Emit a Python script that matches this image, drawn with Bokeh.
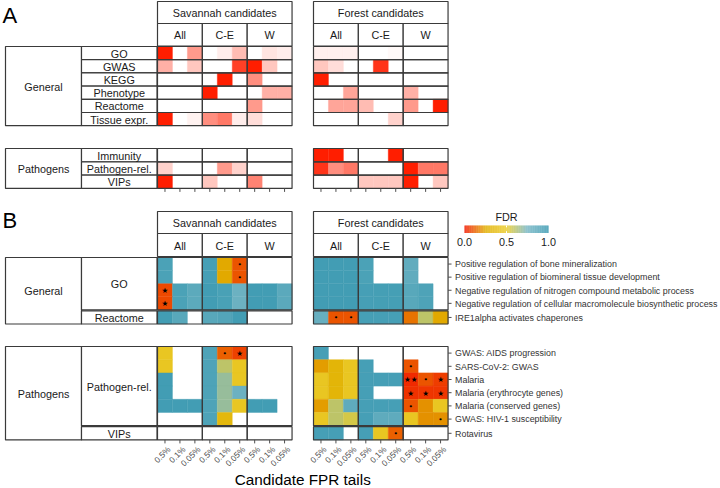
import numpy as np
from bokeh.plotting import figure
from bokeh.models import Range1d, ColumnDataSource, LinearColorMapper
from bokeh.transform import transform
from bokeh.core.properties import value
from bokeh.embed import file_html
from bokeh.resources import INLINE

nan = float("nan")

# ---------------------------------------------------------------- data
datasets = ["Savannah candidates", "Forest candidates"]
groups = ["All", "C-E", "W"]
tails = ["0.5%", "0.1%", "0.05%"]

# Panel A: relative enrichment strength (0 = none, 1 = strongest);
# 9 columns = groups (All, C-E, W) x tails (0.5%, 0.1%, 0.05%)
a_general_rows = ["GO", "GWAS", "KEGG", "Phenotype", "Reactome", "Tissue expr."]
a_pathogen_rows = ["Immunity", "Pathogen-rel.", "VIPs"]

a_sav_go = [1.0, 0, 0.45, 0, 0.08, 0.3, 0, 0.12, 0.08]
a_sav_gwas = [0.35, 0, 0.25, 0, 0, 0.85, 1.0, 0.25, 0]
a_sav_kegg = [0, 0, 0, 0, 1.0, 0, 0.5, 0, 0]
a_sav_pheno = [0, 0, 0, 1.0, 0, 0, 0, 0.35, 0.35]
a_sav_reactome = [0, 0, 0, 0, 0, 0, 0.45, 0, 0]
a_sav_tissue = [1.0, 0, 0.06, 0.5, 0.6, 0.08, 0.15, 0, 0]
a_sav_immunity = [0, 0, 0, 0, 0, 0, 0, 0, 0]
a_sav_pathrel = [0.2, 0, 0, 0, 0.45, 0.2, 0, 0, 0]
a_sav_vips = [1.0, 0, 0, 0.25, 0, 0, 0.55, 0, 0]

a_for_go = [0.07, 0.07, 0.07, 0, 0, 0.03, 0, 0, 0]
a_for_gwas = [0.25, 0.15, 0, 0, 0.9, 0, 0, 0, 0]
a_for_kegg = [1.0, 0, 0, 0, 0, 0, 0, 0, 0]
a_for_pheno = [0, 0, 0.4, 0, 0, 0, 0.35, 0, 0]
a_for_reactome = [0, 0.4, 0.4, 0.3, 0, 0, 0.45, 0, 1.0]
a_for_tissue = [0, 0, 0, 0, 0, 0.2, 0, 0, 0]
a_for_immunity = [1.0, 1.0, 0, 0, 0, 1.0, 0, 0, 0]
a_for_pathrel = [0.9, 0.5, 0.6, 0, 0, 0, 1.0, 0.6, 0.6]
a_for_vips = [0, 0, 0, 0.25, 0.25, 0.25, 1.0, 0, 0.25]

# Panel B: FDR values (nan = not tested) and significance marks
b_general_terms = ["Positive regulation of bone mineralization",
                   "Positive regulation of biomineral tissue development",
                   "Negative regulation of nitrogen compound metabolic process",
                   "Negative regulation of cellular macromolecule biosynthetic process",
                   "IRE1alpha activates chaperones"]
b_general_facets = [("GO", 4), ("Reactome", 1)]
b_pathogen_terms = ["GWAS: AIDS progression", "SARS-CoV-2: GWAS", "Malaria",
                    "Malaria (erythrocyte genes)", "Malaria (conserved genes)",
                    "GWAS: HIV-1 susceptibility", "Rotavirus"]
b_pathogen_facets = [("Pathogen-rel.", 6), ("VIPs", 1)]

b_sav_bone = [0.93, nan, nan, 0.95, 0.24, 0.1, nan, nan, nan]
b_sav_biomin = [0.93, nan, nan, 0.95, 0.24, 0.1, nan, nan, nan]
b_sav_nitrogen = [0.08, 0.93, 0.86, 0.97, 0.94, 0.8, 0.97, 0.97, 0.87]
b_sav_macromol = [0.08, 0.93, 0.86, 0.97, 0.94, 0.8, 0.97, 0.97, 0.87]
b_sav_ire1 = [0.97, 0.88, nan, 0.88, 0.9, 0.97, nan, nan, nan]
b_sav_aids = [0.45, nan, nan, 0.92, 0.12, 0.07, nan, nan, nan]
b_sav_sars = [0.45, nan, nan, 0.92, 0.6, 0.45, nan, nan, nan]
b_sav_malaria = [0.97, nan, nan, 0.92, 0.68, 0.45, nan, nan, nan]
b_sav_ery = [0.97, nan, nan, 0.92, 0.68, 0.8, nan, nan, nan]
b_sav_cons = [0.97, 0.97, 0.97, 0.92, 0.68, 0.45, 0.97, 0.97, nan]
b_sav_hiv = [nan, nan, nan, 0.92, 0.33, nan, nan, nan, nan]
b_sav_rota = [nan, nan, nan, nan, nan, nan, nan, nan, nan]

b_for_bone = [0.97, 0.97, 0.97, 0.93, nan, nan, 0.84, nan, nan]
b_for_biomin = [0.97, 0.97, 0.97, 0.93, nan, nan, 0.84, nan, nan]
b_for_nitrogen = [0.97, 0.97, 0.97, 0.95, 0.96, 0.96, 0.88, 0.92, nan]
b_for_macromol = [0.97, 0.97, 0.97, 0.95, 0.96, 0.96, 0.88, 0.92, nan]
b_for_ire1 = [0.82, 0.1, 0.1, 0.95, 0.95, 0.95, 0.15, 0.6, 0.24]
b_for_aids = [0.95, nan, nan, nan, nan, nan, nan, nan, nan]
b_for_sars = [0.22, 0.3, 0.45, 0.95, nan, nan, 0.1, nan, nan]
b_for_malaria = [0.45, 0.3, 0.45, 0.95, 0.95, 0.95, 0.03, 0.1, 0.06]
b_for_ery = [0.45, 0.3, 0.45, 0.95, nan, nan, 0.04, 0.05, 0.05]
b_for_cons = [0.22, 0.6, 0.85, 0.95, 0.95, 0.95, 0.1, 0.2, 0.45]
b_for_hiv = [0.45, 0.6, 0.55, 0.95, 0.85, 0.85, 0.45, 0.2, 0.2]
b_for_rota = [0.95, 0.95, nan, 0.95, 0.45, 0.12, nan, nan, nan]

E9 = [""] * 9
b_sav_nitrogen_sig = ["*", "", "", "", "", "", "", "", ""]
b_sav_macromol_sig = ["*", "", "", "", "", "", "", "", ""]
b_sav_bone_sig = ["", "", "", "", "", ".", "", "", ""]
b_sav_biomin_sig = ["", "", "", "", "", ".", "", "", ""]
b_sav_aids_sig = ["", "", "", "", ".", "*", "", "", ""]
b_for_ire1_sig = ["", ".", ".", "", "", "", "", "", ""]
b_for_sars_sig = ["", "", "", "", "", "", ".", "", ""]
b_for_malaria_sig = ["", "", "", "", "", "", "**", ".", "*"]
b_for_ery_sig = ["", "", "", "", "", "", "*", "*", "*"]
b_for_cons_sig = ["", "", "", "", "", "", ".", "", ""]
b_for_hiv_sig = ["", "", "", "", "", "", "", "", "."]
b_for_rota_sig = ["", "", "", "", "", ".", "", "", ""]

a_general = [[a_sav_go, a_sav_gwas, a_sav_kegg, a_sav_pheno, a_sav_reactome, a_sav_tissue],
             [a_for_go, a_for_gwas, a_for_kegg, a_for_pheno, a_for_reactome, a_for_tissue]]
a_pathogen = [[a_sav_immunity, a_sav_pathrel, a_sav_vips],
              [a_for_immunity, a_for_pathrel, a_for_vips]]
b_general = [[b_sav_bone, b_sav_biomin, b_sav_nitrogen, b_sav_macromol, b_sav_ire1],
             [b_for_bone, b_for_biomin, b_for_nitrogen, b_for_macromol, b_for_ire1]]
b_general_sig = [[b_sav_bone_sig, b_sav_biomin_sig, b_sav_nitrogen_sig, b_sav_macromol_sig, E9],
                 [E9, E9, E9, E9, b_for_ire1_sig]]
b_pathogen = [[b_sav_aids, b_sav_sars, b_sav_malaria, b_sav_ery, b_sav_cons, b_sav_hiv, b_sav_rota],
              [b_for_aids, b_for_sars, b_for_malaria, b_for_ery, b_for_cons, b_for_hiv, b_for_rota]]
b_pathogen_sig = [[b_sav_aids_sig, E9, E9, E9, E9, E9, E9],
                  [E9, b_for_sars_sig, b_for_malaria_sig, b_for_ery_sig, b_for_cons_sig,
                   b_for_hiv_sig, b_for_rota_sig]]

# ---------------------------------------------------------------- styling / layout
FONT = "Liberation Sans"
BORDER = "#3a3a3a"
TILE_W = 14.95
DS_X0 = [157.0, 313.0]
LEFT_OUT = (5.0, 81.0)
LEFT_IN = (81.0, 156.5)
W, H = 720, 488


def interp_palette(anchors, n=256):
    rgb = np.array([[int(a[i:i + 2], 16) for i in (1, 3, 5)] for a in anchors], float)
    pos = np.linspace(0, 1, len(anchors))
    t = np.linspace(0, 1, n)
    ch = [np.interp(t, pos, rgb[:, k]) for k in range(3)]
    return ["#%02x%02x%02x" % (int(round(ch[0][i])), int(round(ch[1][i])), int(round(ch[2][i])))
            for i in range(n)]


red_mapper = LinearColorMapper(palette=interp_palette(["#FFFFFF", "#FF1E00"]), low=0, high=1)
fdr_mapper = LinearColorMapper(palette=interp_palette(["#F21A00", "#E1AF00", "#EBCC2A", "#78B7C5", "#3B9AB2"]),
                               low=0, high=1)

p = figure(width=W, height=H, x_range=Range1d(0, W), y_range=Range1d(H, 0),
           output_backend="svg", toolbar_location=None, min_border=0,
           x_axis_location=None, y_axis_location=None)
p.xgrid.visible = False
p.ygrid.visible = False
p.outline_line_color = None


def add_text(xs, ys, texts, size, color="#1a1a1a", align="center", baseline="middle",
             angle=0.0, font=FONT, style="normal"):
    src = ColumnDataSource(dict(x=list(xs), y=list(ys), t=list(texts)))
    p.text(x="x", y="y", text="t", source=src, text_font=value(font),
           text_font_size=value("%.1fpx" % size), text_color=color,
           text_align=align, text_baseline=baseline, angle=angle, text_font_style=style)


def add_boxes(l, r, t, b, fill="white", alpha=0.0, lw=1.2, color=BORDER):
    src = ColumnDataSource(dict(l=l, r=r, t=t, b=b))
    p.quad(left="l", right="r", top="t", bottom="b", source=src, fill_color=fill,
           fill_alpha=alpha, line_color=color, line_width=lw)


def facet_layout(facets, y0, h, gap):
    rows, boxes = [], []
    y = y0
    for name, n in facets:
        top = y
        for _ in range(n):
            rows.append(y)
            y += h
        boxes.append((name, top, y))
        y += gap
    return rows, boxes


def tile_left(d, c):
    return DS_X0[d] + c * TILE_W


def draw_strips(y0, y1, y2):
    l, r, t, b = [], [], [], []
    tx, ty, tt = [], [], []
    for d, name in enumerate(datasets):
        x0, x1 = tile_left(d, 0), tile_left(d, 9)
        l.append(x0); r.append(x1); t.append(y0); b.append(y1)
        tx.append((x0 + x1) / 2); ty.append((y0 + y1) / 2 + 0.5); tt.append(name)
        for g, gname in enumerate(groups):
            gx0, gx1 = tile_left(d, 3 * g), tile_left(d, 3 * g + 3)
            l.append(gx0); r.append(gx1); t.append(y1); b.append(y2)
            tx.append((gx0 + gx1) / 2); ty.append((y1 + y2) / 2 + 0.5); tt.append(gname)
    add_boxes(l, r, t, b, alpha=1.0)
    add_text(tx, ty, tt, 10.8)


def draw_left(block_name, boxes):
    top, bottom = boxes[0][1], boxes[-1][2]
    add_boxes([LEFT_OUT[0]], [LEFT_OUT[1]], [top], [bottom], alpha=1.0)
    add_text([(LEFT_OUT[0] + LEFT_OUT[1]) / 2], [(top + bottom) / 2 + 0.5], [block_name], 10.8)
    add_boxes([LEFT_IN[0]] * len(boxes), [LEFT_IN[1]] * len(boxes),
              [bx[1] for bx in boxes], [bx[2] for bx in boxes], alpha=1.0)
    add_text([(LEFT_IN[0] + LEFT_IN[1]) / 2] * len(boxes),
             [(bx[1] + bx[2]) / 2 + 0.5 for bx in boxes], [bx[0] for bx in boxes], 10.8)


def draw_panel_borders(boxes):
    l, r, t, b = [], [], [], []
    for _, top, bottom in boxes:
        for d in range(2):
            for g in range(3):
                l.append(tile_left(d, 3 * g)); r.append(tile_left(d, 3 * g + 3))
                t.append(top); b.append(bottom)
    add_boxes(l, r, t, b)


def draw_cells(values, rows, h, mapper, skip):
    l, r, t, b, v = [], [], [], [], []
    for d in range(2):
        for i, rowvals in enumerate(values[d]):
            for c, val in enumerate(rowvals):
                if skip(val):
                    continue
                l.append(tile_left(d, c)); r.append(tile_left(d, c + 1))
                t.append(rows[i]); b.append(rows[i] + h); v.append(val)
    src = ColumnDataSource(dict(l=l, r=r, t=t, b=b, v=v))
    p.quad(left="l", right="r", top="t", bottom="b", source=src,
           fill_color=transform("v", mapper), line_color=transform("v", mapper), line_width=0.4)


def draw_sig(sigs, rows, h):
    xs, ys, ts = [], [], []
    sym = {"*": "\u2605", "**": "\u2605\u2605", ".": "\u2022"}
    for d in range(2):
        for i, rowsig in enumerate(sigs[d]):
            for c, s in enumerate(rowsig):
                if s:
                    xs.append(tile_left(d, c) + TILE_W / 2)
                    ys.append(rows[i] + h / 2 + 0.3)
                    ts.append(sym[s])
    add_text(xs, ys, ts, 7.5, color="black", font="DejaVu Sans")


def draw_bottom_ticks(y, labels):
    xs = [tile_left(d, c) + TILE_W / 2 for d in range(2) for c in range(9)]
    p.segment(x0=xs, y0=[y] * len(xs), x1=xs, y1=[y + 3.5] * len(xs), line_color="#4d4d4d", line_width=1)
    if labels:
        add_text([x + 0.5 for x in xs], [y + 4.5] * len(xs), [tails[c % 3] for d in range(2) for c in range(9)],
                 8.4, color="#4d4d4d", align="right", baseline="top", angle=np.pi / 4)


# ---------------------------------------------------------------- Panel A
add_text([2], [15], ["A"], 22, color="black", align="left")
draw_strips(1.0, 23.0, 45.5)

ag_h = 13.2
ag_rows, ag_boxes = facet_layout([(r, 1) for r in a_general_rows], 46.0, ag_h, 0.0)
draw_cells(a_general, ag_rows, ag_h, red_mapper, lambda v: not v > 0)
draw_panel_borders(ag_boxes)
draw_left("General", ag_boxes)

ap_h = 13.3
ap_rows, ap_boxes = facet_layout([(r, 1) for r in a_pathogen_rows], 148.0, ap_h, 0.0)
draw_cells(a_pathogen, ap_rows, ap_h, red_mapper, lambda v: not v > 0)
draw_panel_borders(ap_boxes)
draw_left("Pathogens", ap_boxes)
draw_bottom_ticks(ap_boxes[-1][2], False)

# ---------------------------------------------------------------- Panel B
add_text([2], [220], ["B"], 22, color="black", align="left")
draw_strips(211.0, 233.0, 256.0)

bh = 13.1
bg_rows, bg_boxes = facet_layout(b_general_facets, 257.0, bh, 1.0)
draw_cells(b_general, bg_rows, bh, fdr_mapper, lambda v: v != v)
draw_sig(b_general_sig, bg_rows, bh)
draw_panel_borders(bg_boxes)
draw_left("General", bg_boxes)

bp_h = 13.2
bp_rows, bp_boxes = facet_layout(b_pathogen_facets, 346.0, bp_h, 1.0)
draw_cells(b_pathogen, bp_rows, bp_h, fdr_mapper, lambda v: v != v)
draw_sig(b_pathogen_sig, bp_rows, bp_h)
draw_panel_borders(bp_boxes)
draw_left("Pathogens", bp_boxes)
draw_bottom_ticks(bp_boxes[-1][2], True)

# right-hand term labels with ticks
x_right = tile_left(1, 9)
term_y = [y + bh / 2 for y in bg_rows] + [y + bp_h / 2 for y in bp_rows]
terms = b_general_terms + b_pathogen_terms
p.segment(x0=[x_right] * len(term_y), y0=term_y, x1=[x_right + 3.5] * len(term_y), y1=term_y,
          line_color="#4d4d4d", line_width=1)
add_text([x_right + 7.0] * len(term_y), [y + 0.3 for y in term_y], terms, 8.9, color="#333333", align="left")

# x axis title
add_text([(tile_left(0, 0) + tile_left(1, 9)) / 2], [478.5], ["Candidate FPR tails"], 15.3, color="black")

# FDR colour legend
cb_x0, cb_x1, cb_y0, cb_y1 = 464.0, 548.0, 225.0, 232.5
n_cb = 120
cb_vals = np.linspace(0, 1, n_cb)
cb_edges = np.linspace(cb_x0, cb_x1, n_cb + 1)
cb_src = ColumnDataSource(dict(l=cb_edges[:-1], r=cb_edges[1:] + 0.05, v=cb_vals))
p.quad(left="l", right="r", top=cb_y0, bottom=cb_y1, source=cb_src,
       fill_color=transform("v", fdr_mapper), line_color=None)
cb_ticks = [0.0, 0.5, 1.0]
cb_tx = [cb_x0 + t * (cb_x1 - cb_x0) for t in cb_ticks]
p.segment(x0=cb_tx[1:2], y0=[cb_y0], x1=cb_tx[1:2], y1=[cb_y0 + 1.8], line_color="white", line_width=1)
p.segment(x0=cb_tx[1:2], y0=[cb_y1 - 1.8], x1=cb_tx[1:2], y1=[cb_y1], line_color="white", line_width=1)
add_text(cb_tx, [241.5] * 3, ["%.1f" % t for t in cb_ticks], 10.8, color="#1a1a1a")
add_text([(cb_x0 + cb_x1) / 2], [216], ["FDR"], 10.8, color="#1a1a1a")

open("out.html", "w").write(file_html(p, INLINE))
